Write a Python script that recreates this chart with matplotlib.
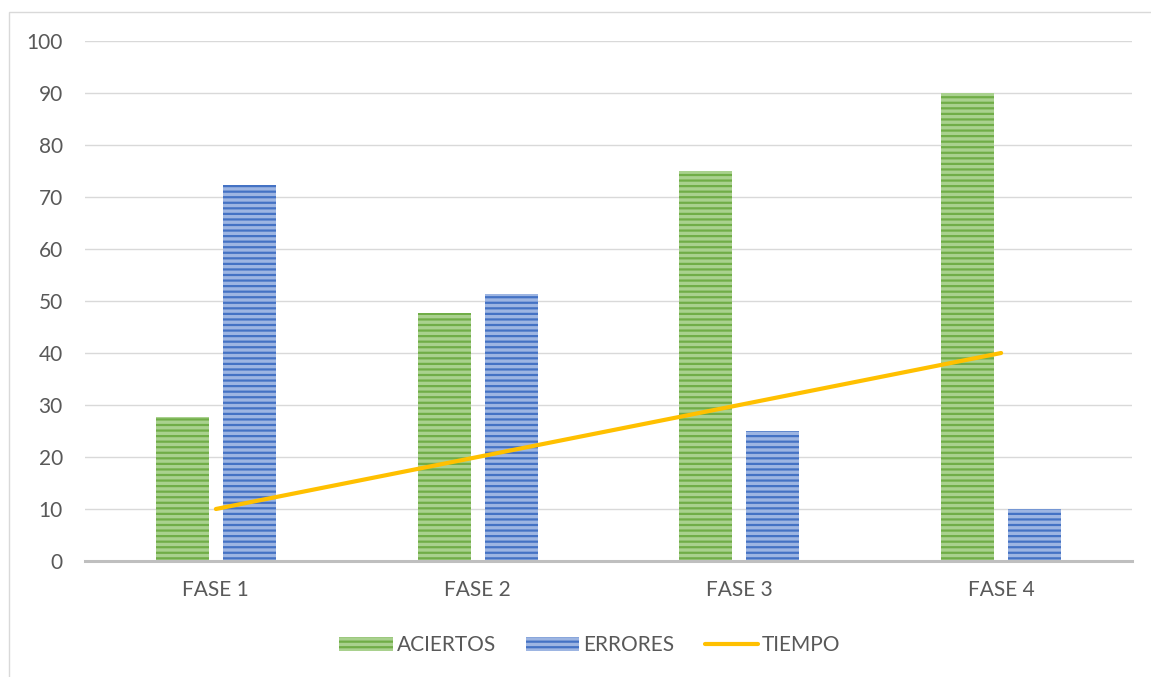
import numpy as np
import matplotlib
matplotlib.use("Agg")
import matplotlib.pyplot as plt
from matplotlib.patches import Rectangle, Patch
from matplotlib.lines import Line2D

categories = ["FASE 1", "FASE 2", "FASE 3", "FASE 4"]
aciertos = [27.7, 47.6, 75, 90]
errores = [72.3, 51.3, 25, 10]
tiempo = [10, 20, 30, 40]
yticks = [0, 10, 20, 30, 40, 50, 60, 70, 80, 90, 100]

plt.rcParams["font.family"] = ["Lato", "DejaVu Sans"]
plt.rcParams["hatch.linewidth"] = 1.6

fig = plt.figure(figsize=(11.51, 6.77), dpi=100)
ax = fig.add_axes([85 / 1151, 1 - 561 / 677, 1047 / 1151, 520 / 677])

# chart frame
fig.patches.append(Rectangle((9 / 1151, -0.01), 1.1, 1 - 12 / 677 + 0.01,
                             transform=fig.transFigure, fill=False,
                             edgecolor="#D9D9D9", linewidth=1))

x = np.arange(len(categories))
w = 0.202
off = 0.128
ax.bar(x - off, aciertos, w, color="#A9D18E", edgecolor="#70AD47",
       hatch="---", linewidth=0, zorder=2)
ax.bar(x + off, errores, w, color="#9DB5E2", edgecolor="#4472C4",
       hatch="---", linewidth=0, zorder=2)
ax.plot(x, tiempo, color="#FFC000", linewidth=3, solid_capstyle="round", zorder=3)

ax.set_xlim(-0.5, 3.5)
ax.set_ylim(0, 100)
ax.set_yticks(yticks)
ax.set_xticks(x)
ax.set_xticklabels(categories)
ax.grid(axis="y", color="#D9D9D9", linewidth=1, zorder=0)
ax.set_axisbelow(True)
for s in ["top", "right", "left"]:
    ax.spines[s].set_visible(False)
ax.spines["bottom"].set_color("#BFBFBF")
ax.spines["bottom"].set_linewidth(2.2)
ax.spines["bottom"].set_zorder(4)
ax.tick_params(axis="both", length=0, labelsize=15, colors="#595959")
ax.tick_params(axis="y", pad=16)
ax.tick_params(axis="x", pad=14)

handles = [
    Patch(facecolor="#A9D18E", edgecolor="#70AD47", hatch="---", linewidth=0),
    Patch(facecolor="#9DB5E2", edgecolor="#4472C4", hatch="---", linewidth=0),
    Line2D([0], [0], color="#FFC000", linewidth=3, solid_capstyle="round"),
]
fig.legend(handles, ["ACIERTOS", "ERRORES", "TIEMPO"], loc="center",
           bbox_to_anchor=(590 / 1151, 1 - 645 / 677), ncol=3, frameon=False,
           fontsize=15, labelcolor="#595959", handlelength=2.55, handleheight=0.67,
           handletextpad=0.2, columnspacing=1.45)

fig.savefig("out.png", dpi=100)
